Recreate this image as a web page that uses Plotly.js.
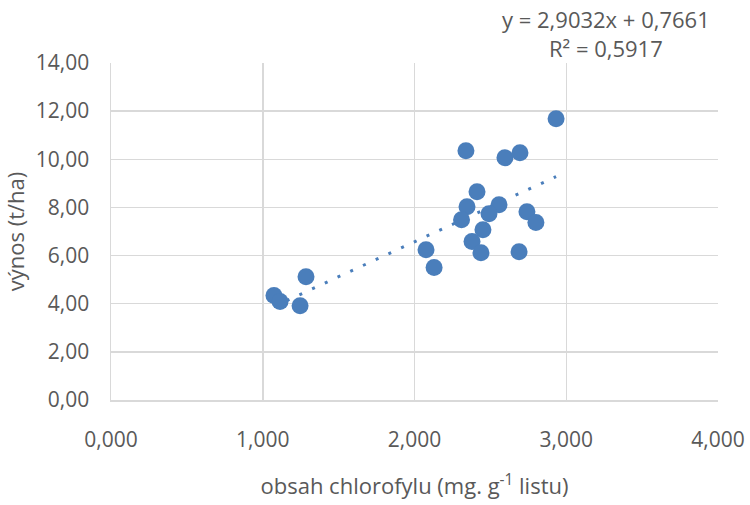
<!DOCTYPE html>
<html>
<head>
<meta charset="utf-8">
<script src="https://cdn.plot.ly/plotly-3.0.1.min.js"></script>
<style>html,body{margin:0;padding:0;background:#fff;}#chart{width:750px;height:505px;}</style>
</head>
<body>
<div id="chart"></div>
<script>
// Data
const chlorofyl = [2.933, 2.339, 2.596, 2.695, 2.412, 2.346, 2.557, 2.491, 2.741, 2.800, 2.310,
                   2.451, 2.379, 2.438, 2.689, 2.076, 2.129, 1.285, 1.074, 1.114, 1.246];
const vynos     = [11.68, 10.35, 10.06, 10.27, 8.65, 8.03, 8.11, 7.74, 7.82, 7.37, 7.49,
                   7.07, 6.58, 6.12, 6.16, 6.24, 5.50, 5.12, 4.34, 4.09, 3.92];
const slope = 2.9032;
const intercept = 0.7661;
const r2 = 0.5917;
const xTicks = [0, 1, 2, 3, 4];
const yTicks = [0, 2, 4, 6, 8, 10, 12, 14];

const xMin = Math.min(...chlorofyl), xMax = Math.max(...chlorofyl);
const trendX = [xMin, xMax];
const trendY = trendX.map(x => slope * x + intercept);

const FONT = 'Open Sans, Liberation Sans, sans-serif';
const GREY = '#595959';
const BLUE = '#4a7ebb';

const fmt = (v, d) => v.toFixed(d).replace('.', ',');

const traces = [
  {
    x: trendX, y: trendY, type: 'scatter', mode: 'lines',
    line: {color: BLUE, width: 3, dash: '3px,11px'},
    hoverinfo: 'skip', showlegend: false
  },
  {
    x: chlorofyl, y: vynos, type: 'scatter', mode: 'markers',
    marker: {color: BLUE, size: 17, line: {width: 0}},
    showlegend: false
  }
];

const layout = {
  width: 750, height: 505,
  margin: {l: 111, r: 32, t: 63, b: 105},
  paper_bgcolor: '#ffffff', plot_bgcolor: '#ffffff',
  separators: ', ',
  font: {family: FONT, color: GREY, size: 21},
  xaxis: {
    range: [0, 4], tickvals: xTicks, ticktext: xTicks.map(v => fmt(v, 3)),
    showgrid: true, gridcolor: '#d9d9d9', gridwidth: 1.5,
    zeroline: false, showline: true, linecolor: '#d9d9d9', linewidth: 1.5, mirror: false,
    ticks: '', ticklabelstandoff: 20,
    tickfont: {family: FONT, size: 21, color: GREY},
    title: {text: 'obsah chlorofylu (mg. g<sup>-1</sup> listu)', font: {family: FONT, size: 22, color: GREY}, standoff: 27}
  },
  yaxis: {
    range: [0, 14], tickvals: yTicks, ticktext: yTicks.map(v => fmt(v, 2)),
    showgrid: true, gridcolor: '#d9d9d9', gridwidth: 1.5,
    zeroline: false, showline: true, linecolor: '#d9d9d9', linewidth: 1.5,
    ticks: '', ticklabelstandoff: 16,
    tickfont: {family: FONT, size: 21, color: GREY},
    title: {text: 'výnos (t/ha)', font: {family: FONT, size: 22, color: GREY}, standoff: 14}
  },
  annotations: [
    {
      xref: 'paper', yref: 'paper', x: 0.815, y: 1, yanchor: 'bottom', xanchor: 'center',
      yshift: -2, align: 'center', showarrow: false,
      text: 'y = ' + fmt(slope, 4) + 'x + ' + fmt(intercept, 4) + '<br>R² = ' + fmt(r2, 4),
      font: {family: FONT, size: 22, color: GREY}
    }
  ]
};

Plotly.newPlot('chart', traces, layout, {displayModeBar: false, staticPlot: true});
</script>
</body>
</html>
